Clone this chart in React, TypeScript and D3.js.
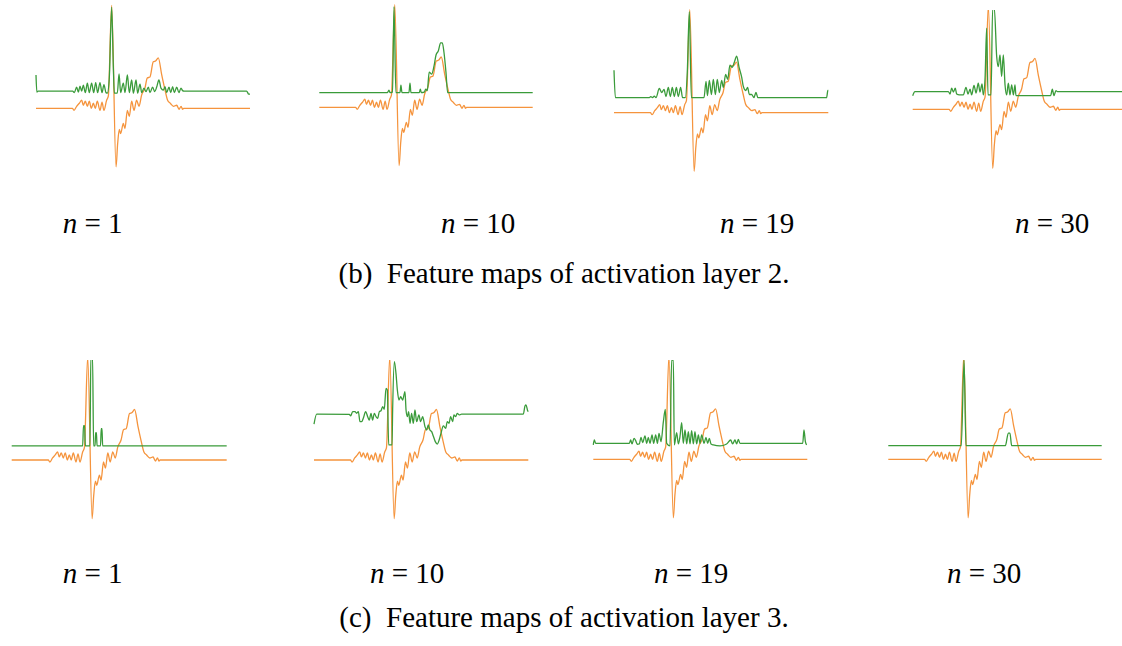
import React, { useEffect, useRef } from 'react';
import * as d3 from 'd3';

// shared input beat (orange), [sample, amplitude]
const ecgBeat: [number, number][] = [
  [0, 0], [34, 0], [35.5, -0.02], [38, 0.02], [40.5, 0.05], [42.7, 0.08], [44.2, 0.03],
  [46.1, 0.07], [48, 0.02], [49.8, 0.07], [51.7, 0], [53.6, 0.05], [55.4, 0], [57.3, 0.07],
  [59.8, -0.02], [61.7, 0.06], [63.5, -0.02], [66, 0.08], [67.6, 0.12], [70.7, 1.02],
  [74.8, -0.58], [76.3, -0.35], [77.9, -0.21], [79.1, -0.25], [81.6, -0.15], [83.1, -0.2],
  [85.4, -0.02], [87.2, -0.08], [89.4, 0.07], [91.6, -0.02], [94, 0.08], [96.3, 0.02],
  [98.7, 0.13], [101.8, 0.2], [104, 0.3], [106.5, 0.31], [109.6, 0.46], [112, 0.47],
  [114.3, 0.5], [117.5, 0.33], [120.6, 0.18], [123, 0.08], [125.5, 0.05], [128.5, 0.02],
  [131.5, 0.03], [133.7, -0.01], [135.6, 0.02], [137, -0.01], [138, 0], [200, 0],
];

// feature maps (green), activation layer 2
const layer2n1: [number, number][] = [
  [0, 0.33], [0.8, 0.16], [2, 0.17], [34.3, 0.17], [35.8, 0.155], [38, 0.21], [39.6, 0.16],
  [41.1, 0.22], [42.7, 0.17], [44.2, 0.23], [46.1, 0.155], [48, 0.25], [49.8, 0.155],
  [52, 0.25], [53.9, 0.155], [55.8, 0.255], [57.6, 0.155], [59.8, 0.255], [61.7, 0.155],
  [63.5, 0.235], [65.4, 0.155], [66.7, 0.15], [68.5, 0.3], [70.7, 1.0], [72.3, 0.4],
  [73.2, 0.15], [76, 0.15], [77.6, 0.34], [79.1, 0.155], [81.6, 0.25], [83.2, 0.155],
  [85.4, 0.33], [87.2, 0.155], [89.4, 0.28], [91, 0.15], [93.5, 0.28], [95, 0.15],
  [97.2, 0.24], [98.8, 0.155], [100.9, 0.2], [102.8, 0.165], [105, 0.21], [106.5, 0.155],
  [109, 0.21], [110.9, 0.165], [112.8, 0.21], [114.9, 0.28], [116.8, 0.2], [119, 0.18],
  [120.6, 0.215], [122.1, 0.155], [124.3, 0.21], [125.9, 0.155], [127.7, 0.215],
  [129.3, 0.155], [131.5, 0.21], [133.6, 0.155], [135.5, 0.2], [137, 0.175], [138.3, 0.17],
  [196.8, 0.17], [198.8, 0.14], [200, 0.14],
];
const layer2n10: [number, number][] = [
  [0, 0.145], [63.7, 0.145], [65.3, 0.17], [66.2, 0.145], [68.6, 0.15], [70, 1.0],
  [71.8, 0.145], [75.6, 0.145], [76.5, 0.22], [77.5, 0.145], [84, 0.145], [85, 0.24],
  [85.9, 0.145], [93.7, 0.145], [94.7, 0.18], [95.6, 0.145], [98.4, 0.15], [99.7, 0.18],
  [101.2, 0.165], [103, 0.35], [105.3, 0.33], [107.5, 0.41], [109.4, 0.52], [111.5, 0.56],
  [113.7, 0.64], [115.3, 0.64], [116.8, 0.55], [118.7, 0.35], [120.3, 0.145], [200, 0.145],
];
const layer2n19: [number, number][] = [
  [0, 0.42], [1.3, 0.149], [33, 0.149], [34.2, 0.16], [36, 0.149], [37.6, 0.165],
  [39.2, 0.149], [42.3, 0.24], [44.5, 0.2], [46.7, 0.23], [48.5, 0.16], [50.7, 0.25],
  [52.6, 0.16], [54.4, 0.25], [56.3, 0.16], [58.2, 0.25], [60, 0.16], [62.2, 0.25],
  [64, 0.149], [66.6, 0.149], [68.4, 0.4], [70.3, 1.0], [72.2, 0.149], [84, 0.149],
  [85.9, 0.31], [87.2, 0.17], [89, 0.32], [90.9, 0.18], [92.7, 0.33], [94.6, 0.18],
  [96.4, 0.33], [98.3, 0.2], [100.5, 0.32], [102, 0.25], [104.2, 0.38], [106.1, 0.33],
  [108.2, 0.47], [110.4, 0.45], [112.3, 0.5], [114.5, 0.56], [116.7, 0.45], [119.2, 0.35],
  [120.7, 0.26], [122.9, 0.22], [124.7, 0.25], [126.3, 0.18], [128.4, 0.18], [130.6, 0.15],
  [132.5, 0.2], [134.3, 0.149], [198.4, 0.149], [199.6, 0.22], [200, 0.22],
];
const layer2n30: [number, number][] = [
  [0, 0.134], [2.1, 0.174], [33.3, 0.174], [34.9, 0.15], [36.4, 0.207], [38, 0.17],
  [39.8, 0.207], [41.1, 0.15], [43.6, 0.141], [47.3, 0.141], [49.8, 0.216], [51.7, 0.15],
  [53.6, 0.197], [55.1, 0.141], [57.3, 0.236], [59.2, 0.16], [61.3, 0.256], [62.9, 0.17],
  [64.8, 0.25], [66, 0.141], [67.6, 0.3], [69.1, 0.797], [70.4, 0.141], [73.2, 0.141],
  [74.7, 0.99], [76.3, 0.99], [78.5, 0.518], [80, 0.42], [81.6, 0.534], [83.1, 0.321],
  [84.7, 0.534], [86.3, 0.239], [87.8, 0.141], [89.4, 0.256], [90.9, 0.141], [92.5, 0.239],
  [94.1, 0.141], [95.6, 0.239], [96.5, 0.134], [128.9, 0.134], [130.5, 0.197], [132, 0.134],
  [133.9, 0.184], [135.2, 0.174], [200, 0.174],
];

// feature maps (green), activation layer 3
const layer3n1: [number, number][] = [
  [0, 0.139], [66, 0.139], [66.8, 0.34], [67.8, 0.34], [68.5, 0.139], [72.8, 0.139],
  [73.6, 1.02], [75.2, 1.02], [76.2, 0.139], [77.5, 0.139], [78.1, 0.27], [78.8, 0.27],
  [79.4, 0.139], [82.6, 0.139], [83.3, 0.31], [84, 0.31], [84.6, 0.139], [200, 0.139],
];
const layer3n10: [number, number][] = [
  [0, 0.356], [2.5, 0.455], [33, 0.452], [34.2, 0.436], [36.1, 0.479], [38.3, 0.479],
  [39.8, 0.462], [41.4, 0.479], [42.9, 0.38], [44.5, 0.38], [46, 0.413], [48.2, 0.479],
  [50.1, 0.429], [51.6, 0.396], [53.2, 0.462], [54.7, 0.396], [56.3, 0.462], [57.9, 0.429],
  [59.4, 0.413], [61, 0.479], [62.5, 0.488], [64.1, 0.528], [65.6, 0.502], [67.2, 0.71],
  [68.4, 0.693], [69.7, 0.149], [72.8, 0.149], [73.4, 0.5], [75, 0.974], [76.5, 0.858],
  [77.8, 0.693], [79.3, 0.594], [80.9, 0.627], [82.7, 0.594], [84.9, 0.677], [85.9, 0.495],
  [87.1, 0.429], [88.3, 0.479], [89.6, 0.363], [91.1, 0.462], [92.7, 0.363], [94.2, 0.495],
  [95.8, 0.38], [97.9, 0.446], [99.5, 0.38], [101.4, 0.429], [103.6, 0.33], [105.1, 0.297],
  [106.7, 0.347], [108.2, 0.297], [109.8, 0.281], [111.3, 0.238], [113.2, 0.182],
  [115.1, 0.158], [117, 0.205], [118.5, 0.264], [120.7, 0.337], [122.9, 0.314], [124.4, 0.38],
  [126, 0.363], [127.5, 0.429], [129.4, 0.38], [130.6, 0.446], [132.2, 0.429], [133.7, 0.462],
  [135.6, 0.446], [137.8, 0.455], [195.4, 0.455], [196.9, 0.535], [197.9, 0.545],
  [199.4, 0.488], [200, 0.479],
];
const layer3n19: [number, number][] = [
  [0, 0.142], [0.96, 0.191], [2.2, 0.158], [33.7, 0.158], [34.9, 0.191], [36.2, 0.152],
  [38.1, 0.208], [39.6, 0.185], [41.1, 0.149], [43, 0.152], [44.6, 0.218], [46.1, 0.165],
  [48.3, 0.231], [49.9, 0.158], [51.4, 0.218], [53, 0.158], [54.9, 0.241], [56.4, 0.158],
  [58.3, 0.241], [59.9, 0.158], [61.4, 0.257], [63.3, 0.175], [65.5, 0.373], [67.3, 0.495],
  [68.6, 0.158], [71.7, 0.132], [73.2, 0.983], [74.8, 0.983], [75.7, 0.142], [77.9, 0.264],
  [79.5, 0.152], [81, 0.224], [82.6, 0.363], [84.1, 0.158], [85.7, 0.29], [87.3, 0.152],
  [88.8, 0.274], [90.4, 0.152], [91.9, 0.284], [93.5, 0.152], [95, 0.274], [96.6, 0.152],
  [98.2, 0.241], [99.7, 0.158], [101.3, 0.241], [103.5, 0.158], [105.3, 0.218],
  [106.9, 0.158], [108.4, 0.208], [110, 0.152], [112.2, 0.142], [118.4, 0.132],
  [124.6, 0.152], [128.4, 0.191], [130.2, 0.152], [132.4, 0.191], [134, 0.152],
  [135.5, 0.198], [137.1, 0.158], [195.7, 0.158], [196.9, 0.29], [198.2, 0.175], [199.4, 0.142],
];
const layer3n30: [number, number][] = [
  [0, 0.135], [68.4, 0.135], [71, 0.98], [72.8, 0.135], [109.7, 0.135], [112.5, 0.26],
  [114, 0.26], [115.6, 0.135], [200, 0.135],
];

const featureMaps = [layer2n1, layer2n10, layer2n19, layer2n30, layer3n1, layer3n10, layer3n19, layer3n30];
const nLabels = [1, 10, 19, 30, 1, 10, 19, 30];
const captions = ['(b)  Feature maps of activation layer 2.', '(c)  Feature maps of activation layer 3.'];

// where each small panel sits on the page
const panels = [
  { x0: 36, x1: 250, base: 108.3, unit: 101, top: 0, labelX: 62.7, row: 0 },
  { x0: 319.3, x1: 532.7, base: 107.3, unit: 100.6, top: 0, labelX: 441, row: 0 },
  { x0: 614, x1: 828.3, base: 112.7, unit: 101, top: 0, labelX: 720, row: 0 },
  { x0: 912.7, x1: 1126.7, base: 109.3, unit: 101.7, top: 10, labelX: 1015, row: 0 },
  { x0: 11.7, x1: 226.7, base: 460, unit: 101, top: 360, labelX: 62.7, row: 1 },
  { x0: 314, x1: 528.3, base: 460, unit: 101, top: 360, labelX: 370, row: 1 },
  { x0: 593.3, x1: 807.3, base: 459.3, unit: 101, top: 360, labelX: 654, row: 1 },
  { x0: 888.3, x1: 1101.7, base: 459.3, unit: 101, top: 360, labelX: 947, row: 1 },
];
const rows = [
  { labelY: 233, captionY: 283 },
  { labelY: 583, captionY: 627 },
];

const ORANGE = '#f5943d';
const GREEN = '#3a9b3a';
const FONT = '"Liberation Serif", "Times New Roman", serif';

export default function App() {
  const ref = useRef<SVGSVGElement>(null);

  useEffect(() => {
    const svg = d3.select(ref.current);
    svg.selectAll('*').remove();

    const width = 1122;
    const height = 646;
    svg.attr('width', width).attr('height', height);
    svg.append('rect').attr('width', width).attr('height', height).attr('fill', '#fff');

    const defs = svg.append('defs');

    panels.forEach((p, i) => {
      const x = d3.scaleLinear().domain([0, 200]).range([p.x0, p.x1]);
      const y = d3.scaleLinear().domain([0, 1]).range([p.base, p.base - p.unit]);

      defs
        .append('clipPath')
        .attr('id', `clip${i}`)
        .append('rect')
        .attr('x', p.x0 - 2)
        .attr('y', p.top)
        .attr('width', p.x1 - p.x0 + 4)
        .attr('height', 240);

      const line = d3
        .line<[number, number]>()
        .x((d) => x(d[0]))
        .y((d) => y(d[1]))
        .curve(d3.curveMonotoneX);

      const g = svg.append('g').attr('clip-path', `url(#clip${i})`);
      g.append('path')
        .attr('d', line(ecgBeat))
        .attr('fill', 'none')
        .attr('stroke', ORANGE)
        .attr('stroke-width', 1.3)
        .attr('stroke-linejoin', 'round');
      g.append('path')
        .attr('d', line(featureMaps[i]))
        .attr('fill', 'none')
        .attr('stroke', GREEN)
        .attr('stroke-width', 1.3)
        .attr('stroke-linejoin', 'round');

      const label = svg
        .append('text')
        .attr('x', p.labelX)
        .attr('y', rows[p.row].labelY)
        .attr('font-family', FONT)
        .attr('font-size', 29)
        .style('white-space', 'pre');
      label.append('tspan').attr('font-style', 'italic').text('n');
      label.append('tspan').text(` = ${nLabels[i]}`);
    });

    rows.forEach((r, k) => {
      svg
        .append('text')
        .attr('x', 564)
        .attr('y', r.captionY)
        .attr('text-anchor', 'middle')
        .attr('font-family', FONT)
        .attr('font-size', 29)
        .style('white-space', 'pre')
        .text(captions[k]);
    });
  }, []);

  return <svg ref={ref} style={{ position: 'absolute', left: 0, top: 0, display: 'block' }}></svg>;
}
